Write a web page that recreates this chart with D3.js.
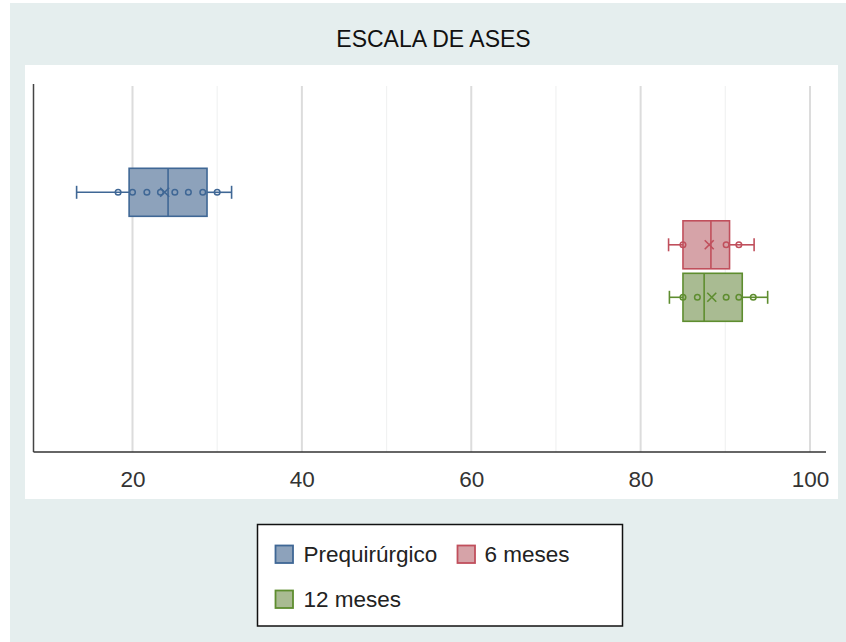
<!DOCTYPE html>
<html>
<head>
<meta charset="utf-8">
<script src="https://cdn.jsdelivr.net/npm/d3@7"></script>
<style>
  html, body { margin: 0; padding: 0; background: #ffffff; }
  svg { display: block; font-family: "Liberation Sans", Arial, Helvetica, sans-serif; }
</style>
</head>
<body>
<svg id="chart" width="846" height="642"></svg>
<script>
// Box-plot series (one box per time point)
const categories   = ["Prequirúrgico", "6 meses", "12 meses"];
const whiskerLow   = [13.4, 83.3, 83.4];
const q1           = [19.6, 85.0, 85.0];
const median       = [24.2, 88.3, 87.5];
const q3           = [28.8, 90.5, 92.0];
const whiskerHigh  = [31.7, 93.4, 95.0];
const means        = [23.8, 88.1, 88.4];
const innerPoints  = [
  [18.3, 20.0, 21.7, 23.3, 25.0, 26.6, 28.3, 30.0],
  [85.0, 90.1, 91.6],
  [85.0, 86.7, 90.1, 91.6, 93.3]
];
const fillColors   = ["#8da2bb", "#d6a3a8", "#a9bb92"];
const strokeColors = ["#3f6795", "#c04f5c", "#5e8d2f"];
const majorTicks   = [20, 40, 60, 80, 100];
const minorTicks   = [30, 50, 70, 90];
const titleText    = "ESCALA DE ASES";

const svg = d3.select("#chart");

// page backgrounds
svg.append("rect").attr("x", 10).attr("y", 3).attr("width", 836).attr("height", 639).attr("fill", "#e5eeee");
svg.append("rect").attr("x", 25).attr("y", 65).attr("width", 813).attr("height", 434).attr("fill", "#ffffff");

// title
svg.append("text")
  .attr("x", 433.5).attr("y", 47)
  .attr("text-anchor", "middle")
  .attr("font-size", 23)
  .attr("fill", "#111")
  .text(titleText);

const plotTop = 84, plotBottom = 452, plotLeft = 33.5, plotRight = 826;

const x = d3.scaleLinear().domain([20, 100]).range([132.5, 810]);
const y = d3.scalePoint().domain(categories).range([192.3, 297.3]);
const boxH = 48;

// gridlines
svg.append("g").selectAll("line").data(minorTicks).join("line")
  .attr("x1", d => x(d)).attr("x2", d => x(d))
  .attr("y1", plotTop + 2).attr("y2", plotBottom)
  .attr("stroke", "#f1f2f2").attr("stroke-width", 1.2);
svg.append("g").selectAll("line").data(majorTicks).join("line")
  .attr("x1", d => x(d)).attr("x2", d => x(d))
  .attr("y1", plotTop + 2).attr("y2", plotBottom)
  .attr("stroke", "#dcdcdc").attr("stroke-width", 2);

// axis frame
svg.append("line")
  .attr("x1", plotLeft).attr("x2", plotLeft)
  .attr("y1", plotTop).attr("y2", plotBottom)
  .attr("stroke", "#444").attr("stroke-width", 1.5);
svg.append("line")
  .attr("x1", plotLeft).attr("x2", plotRight)
  .attr("y1", plotBottom).attr("y2", plotBottom)
  .attr("stroke", "#333").attr("stroke-width", 1.5);

// tick labels
const xAxis = d3.axisBottom(x).tickValues(majorTicks).tickSize(0).tickPadding(19);
const axisG = svg.append("g").attr("transform", `translate(0,${plotBottom})`).call(xAxis);
axisG.select(".domain").remove();
axisG.selectAll("text")
  .attr("font-size", 22.5)
  .attr("font-family", "'Liberation Sans', Arial, Helvetica, sans-serif")
  .attr("fill", "#333");

// boxes
const boxes = svg.append("g").selectAll("g").data(categories).join("g");

boxes.each(function(c, i) {
  const g = d3.select(this);
  const cy = y(c);
  const col = strokeColors[i];
  // whiskers
  g.append("line").attr("x1", x(whiskerLow[i])).attr("x2", x(q1[i]))
    .attr("y1", cy).attr("y2", cy).attr("stroke", col).attr("stroke-width", 1.6);
  g.append("line").attr("x1", x(q3[i])).attr("x2", x(whiskerHigh[i]))
    .attr("y1", cy).attr("y2", cy).attr("stroke", col).attr("stroke-width", 1.6);
  [whiskerLow[i], whiskerHigh[i]].forEach(v => {
    g.append("line").attr("x1", x(v)).attr("x2", x(v))
      .attr("y1", cy - 6.5).attr("y2", cy + 6.5)
      .attr("stroke", col).attr("stroke-width", 1.6);
  });
  // box
  g.append("rect")
    .attr("x", x(q1[i])).attr("y", cy - boxH / 2)
    .attr("width", x(q3[i]) - x(q1[i])).attr("height", boxH)
    .attr("fill", fillColors[i]).attr("stroke", col).attr("stroke-width", 1.6);
  // median
  g.append("line").attr("x1", x(median[i])).attr("x2", x(median[i]))
    .attr("y1", cy - boxH / 2).attr("y2", cy + boxH / 2)
    .attr("stroke", col).attr("stroke-width", 1.6);
  // inner points
  g.selectAll("circle").data(innerPoints[i]).join("circle")
    .attr("cx", d => x(d)).attr("cy", cy).attr("r", 2.8)
    .attr("fill", "none").attr("stroke", col).attr("stroke-width", 1.5);
  // mean marker
  const mx = x(means[i]), s = 4.5;
  g.append("path")
    .attr("d", `M${mx - s},${cy - s}L${mx + s},${cy + s}M${mx - s},${cy + s}L${mx + s},${cy - s}`)
    .attr("stroke", col).attr("stroke-width", 1.6).attr("fill", "none");
});

// legend
svg.append("rect")
  .attr("x", 257.5).attr("y", 524.5).attr("width", 365).attr("height", 101.5)
  .attr("fill", "#ffffff").attr("stroke", "#111").attr("stroke-width", 1.5);

const legendPos = [
  { sx: 275.5, sy: 545.5, tx: 303.5, ty: 562 },
  { sx: 457.5, sy: 545.5, tx: 484.5, ty: 562 },
  { sx: 275.5, sy: 590.5, tx: 303.5, ty: 607 }
];
const legend = svg.append("g").selectAll("g").data(categories).join("g");
legend.append("rect")
  .attr("x", (d, i) => legendPos[i].sx).attr("y", (d, i) => legendPos[i].sy)
  .attr("width", 17.5).attr("height", 17.5)
  .attr("fill", (d, i) => fillColors[i])
  .attr("stroke", (d, i) => strokeColors[i]).attr("stroke-width", 1.8);
legend.append("text")
  .attr("x", (d, i) => legendPos[i].tx).attr("y", (d, i) => legendPos[i].ty)
  .attr("font-size", 22.5)
  .attr("fill", "#222")
  .text(d => d);
</script>
</body>
</html>
